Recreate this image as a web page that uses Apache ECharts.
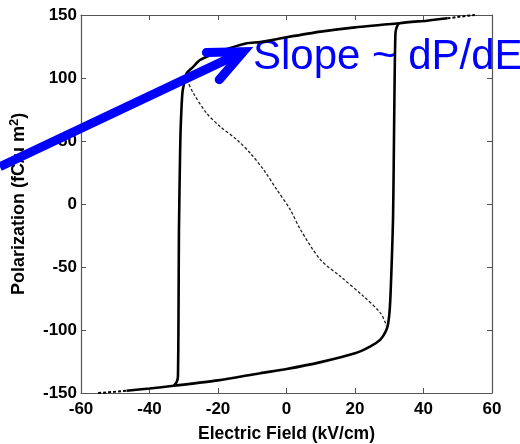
<!DOCTYPE html>
<html>
<head>
<meta charset="utf-8">
<script src="https://cdn.jsdelivr.net/npm/echarts@6/dist/echarts.min.js"></script>
<style>html,body{margin:0;padding:0;background:#fff;}#c{width:520px;height:444px;}</style>
</head>
<body>
<div id="c"></div>
<script>
// ---- data (E in kV/cm, P in fC/um^2) ----
const xTicks = [-60, -40, -20, 0, 20, 40, 60];
const yTicks = [-150, -100, -50, 0, 50, 100, 150];

// outer loop, solid part (bottom branch -> right switch -> top -> left switch)
const loopE = [-46.7, -40, -33, -20, -7.7, 0, 10, 20, 24.5, 27.4, 28.9, 29.6, 30.1, 30.4, 30.8, 31.1, 31.3, 31.5, 31.8, 32.2, 33,
               41, 47];
const loopP = [-148.2, -146.4, -144.3, -140, -134.3, -131, -125.5, -118.5, -113, -107.6, -101.5, -96, -85, -70, -40, -12, 30, 82, 135, 140.5, 143.5,
               145.5, 147.4];
const upperE = [33, 20, 10, 0, -7.7, -11.6, -19.4, -25.2, -27.2, -29.1, -29.8, -30.4, -30.9, -31.1, -31.4, -31.5, -31.7, -32.1, -33];
const upperP = [143.5, 140.2, 136.8, 132.3, 128.5, 127.5, 121, 114.3, 109, 104, 97, 88, 60, 35, -20, -73, -137, -141.5, -144.3];

// dotted extremes of the loop
const tailRightE = [47, 51, 55];
const tailRightP = [147.4, 148.8, 150];
const tailLeftE = [-55, -51, -46.7];
const tailLeftP = [-150, -149.2, -148.2];

// thin dashed curve
const dashE = [-29.1, -27.2, -23.3, -19.4, -14.5, -10.6, -6.7, -2.8, 1.1, 4, 9.9, 15.7, 22.5, 27.4, 28.9, 29.1];
const dashP = [98.5, 88, 72, 61.5, 51, 40.4, 27.2, 11.3, -4.5, -20, -44.2, -57.4, -73.3, -86.4, -94.4, -97];

// annotation
const arrowFrom = [-83.7, 29.6];
const arrowTo = [-12.6, 120.9];
const noteText = 'Slope ~ dP/dE';
const noteAt = [-9.8, 116.5];

const zip = (a, b) => a.map((v, i) => [v, b[i]]);

const chart = echarts.init(document.getElementById('c'));
const font = 'Liberation Sans, Arial, Helvetica, sans-serif';
const axisLine = {show: true, onZero: false, lineStyle: {color: '#555', width: 1.2}};
const tick = {show: true, inside: true, length: 5, lineStyle: {color: '#555', width: 1}};
const lbl = {color: '#000', fontFamily: font, fontWeight: 'bold', fontSize: 17};

chart.setOption({
  animation: false,
  backgroundColor: '#fff',
  grid: {left: 81, right: 28, top: 15, bottom: 51, containLabel: false, outerBoundsMode: 'none'},
  xAxis: [{
    type: 'value', min: -60, max: 60, interval: 20, position: 'bottom',
    axisLine: axisLine, axisTick: tick, splitLine: {show: false},
    axisLabel: Object.assign({margin: 8}, lbl),
    name: 'Electric Field (kV/cm)', nameLocation: 'middle', nameGap: 32,
    nameTextStyle: {color: '#000', fontFamily: font, fontWeight: 'bold', fontSize: 17.5}
  }, {
    type: 'value', min: -60, max: 60, interval: 20, position: 'top',
    axisLine: axisLine, axisTick: tick, splitLine: {show: false}, axisLabel: {show: false}
  }],
  yAxis: [{
    type: 'value', min: -150, max: 150, interval: 50, position: 'left',
    axisLine: axisLine, axisTick: tick, splitLine: {show: false},
    axisLabel: Object.assign({margin: 4}, lbl),
    name: 'Polarization (fC/μ m{sup|2})', nameLocation: 'middle', nameGap: 51, nameRotate: 90,
    nameTextStyle: {color: '#000', fontFamily: font, fontWeight: 'bold', fontSize: 18,
      rich: {sup: {fontSize: 13, fontWeight: 'bold', fontFamily: font, color: '#000', verticalAlign: 'top', padding: [0, 0, 9, 0]}}}
  }, {
    type: 'value', min: -150, max: 150, interval: 50, position: 'right',
    axisLine: axisLine, axisTick: tick, splitLine: {show: false}, axisLabel: {show: false}
  }],
  series: [
    {type: 'line', data: zip(loopE, loopP), showSymbol: false, smooth: 0.25, clip: true,
     lineStyle: {color: '#000', width: 2.6}, z: 3},
    {type: 'line', data: zip(upperE, upperP), showSymbol: false, smooth: 0.25, clip: true,
     lineStyle: {color: '#000', width: 2.6}, z: 3},
    {type: 'line', data: zip(tailRightE, tailRightP), showSymbol: false, clip: true,
     lineStyle: {color: '#000', width: 2, type: [3, 2]}, z: 3},
    {type: 'line', data: zip(tailLeftE, tailLeftP), showSymbol: false, clip: true,
     lineStyle: {color: '#000', width: 2, type: [3, 2]}, z: 3},
    {type: 'line', data: zip(dashE, dashP), showSymbol: false, smooth: 0.3, clip: true,
     lineStyle: {color: '#222', width: 1.3, type: [3, 2]}, z: 3}
  ]
});

// annotation: arrow and text positioned through the axes' scales
const p0 = chart.convertToPixel({gridIndex: 0}, arrowFrom);
const p1 = chart.convertToPixel({gridIndex: 0}, arrowTo);
const ang = Math.atan2(p0[1] - p1[1], p0[0] - p1[0]);
const headLen = 37, headAng = 24 * Math.PI / 180;
const armA = [p1[0] + headLen * Math.cos(ang + headAng), p1[1] + headLen * Math.sin(ang + headAng)];
const armB = [p1[0] + headLen * Math.cos(ang - headAng), p1[1] + headLen * Math.sin(ang - headAng)];
const tp = chart.convertToPixel({gridIndex: 0}, noteAt);
chart.setOption({
  graphic: [
    {type: 'text', z: 1, style: {x: tp[0], y: tp[1], text: noteText, fill: '#0000ff',
      font: '42px ' + font, textAlign: 'left', textVerticalAlign: 'middle'}},
    {type: 'polyline', z: 100, shape: {points: [p0, p1]},
      style: {stroke: '#0000ff', lineWidth: 9, lineCap: 'butt', fill: null}},
    {type: 'polyline', z: 100, shape: {points: [armA, p1, armB]},
      style: {stroke: '#0000ff', lineWidth: 9, lineCap: 'round', lineJoin: 'miter', fill: null}}
  ]
});
</script>
</body>
</html>
